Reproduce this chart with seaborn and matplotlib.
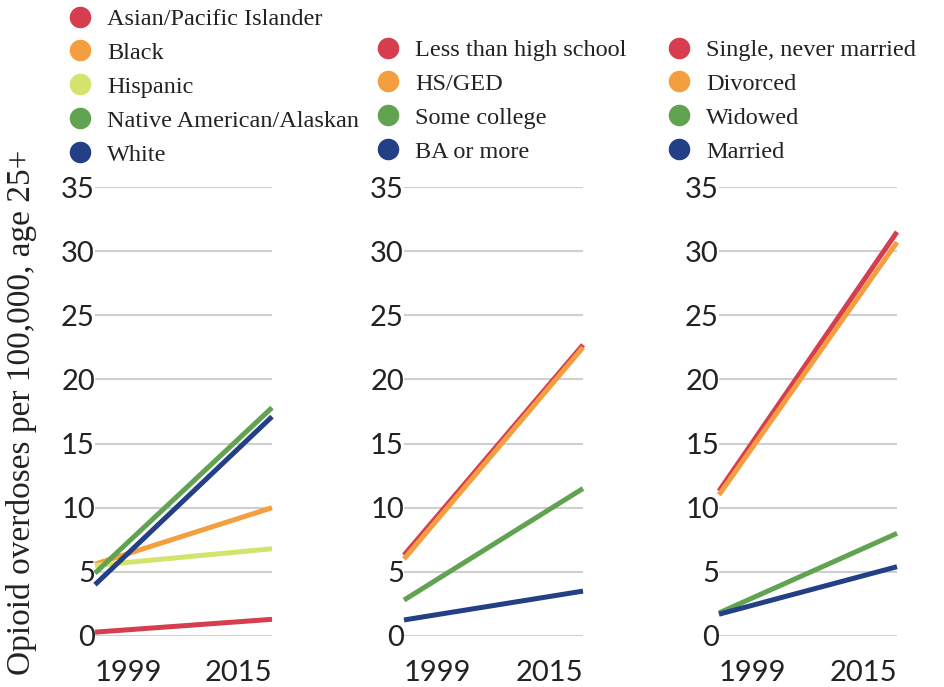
import pandas as pd
import matplotlib.pyplot as plt
import seaborn as sns
from matplotlib.lines import Line2D

sns.set_style("white")
plt.rcParams['figure.facecolor'] = 'white'

# Data (rate per 100,000, age 25+)
years = [1999, 2015]

race_groups = ['Asian/Pacific Islander', 'Black', 'Hispanic', 'Native American/Alaskan', 'White']
race_1999 = [0.3, 5.6, 5.5, 4.9, 4.0]
race_2015 = [1.3, 10.0, 6.8, 17.8, 17.1]

edu_groups = ['Less than high school', 'HS/GED', 'Some college', 'BA or more']
edu_1999 = [6.3, 6.0, 2.8, 1.25]
edu_2015 = [22.7, 22.5, 11.5, 3.5]

marital_groups = ['Single, never married', 'Divorced', 'Widowed', 'Married']
marital_1999 = [11.3, 11.0, 1.8, 1.7]
marital_2015 = [31.5, 30.7, 8.0, 5.4]

red = '#d63d4f'
orange = '#f39e3f'
lime = '#d3e36b'
green = '#62a352'
navy = '#233f86'

race_colors = [red, orange, lime, green, navy]
four_colors = [red, orange, green, navy]

W, H = 945, 687
fig = plt.figure(figsize=(W / 100, H / 100), dpi=100)

serif = 'Liberation Serif'
text_color = '#222222'


def long_df(groups, v1999, v2015):
    rows = []
    for g, a, b in zip(groups, v1999, v2015):
        rows.append({'group': g, 'year': years[0], 'rate': a})
        rows.append({'group': g, 'year': years[1], 'rate': b})
    return pd.DataFrame(rows)


panels = [
    (race_groups, race_1999, race_2015, race_colors, 95, 272),
    (edu_groups, edu_1999, edu_2015, four_colors, 404, 583),
    (marital_groups, marital_1999, marital_2015, four_colors, 719, 897),
]

y_top, y_bot = 187, 636

for groups, a, b, colors, x0, x1 in panels:
    ax = fig.add_axes([x0 / W, 1 - y_bot / H, (x1 - x0) / W, (y_bot - y_top) / H])
    df = long_df(groups, a, b)
    sns.lineplot(data=df, x='year', y='rate', hue='group', hue_order=groups,
                 palette=colors, linewidth=3.6, legend=False, ax=ax,
                 solid_capstyle='butt')
    for ln in ax.get_lines():
        ln.set_clip_on(False)
    ax.set_xlim(years[0], years[1])
    ax.set_ylim(0, 35)
    ax.set_yticks(range(0, 36, 5))
    ax.set_xticks(years)
    ax.set_xticklabels(['1999', '2015'])
    for lbl, ha in zip(ax.get_xticklabels(), ['left', 'right']):
        lbl.set_horizontalalignment(ha)
    ax.yaxis.grid(True, color='#cfcfcf', linewidth=1.5)
    ax.xaxis.grid(False)
    ax.set_axisbelow(True)
    for s in ax.spines.values():
        s.set_visible(False)
    ax.tick_params(axis='both', length=0, labelsize=21, labelcolor=text_color)
    ax.tick_params(axis='y', pad=0)
    ax.tick_params(axis='x', pad=17)
    for lbl in ax.get_xticklabels() + ax.get_yticklabels():
        lbl.set_fontfamily('Lato')
    ax.set_xlabel('')
    ax.set_ylabel('')


def add_legend(groups, colors, x_px, y_px):
    handles = [Line2D([], [], linestyle='none', marker='o', markersize=14.5,
                      markerfacecolor=c, markeredgecolor=c) for c in colors]
    leg = fig.legend(handles, groups, loc='upper left',
                     bbox_to_anchor=(x_px / W, 1 - y_px / H),
                     frameon=False, borderpad=0, borderaxespad=0,
                     handlelength=1.0, handletextpad=0.61, labelspacing=0.49,
                     prop={'family': serif, 'size': 17.5})
    for t in leg.get_texts():
        t.set_color(text_color)
    return leg


add_legend(race_groups, race_colors, 68, 8)
add_legend(edu_groups, four_colors, 376, 39)
add_legend(marital_groups, four_colors, 667, 39)

fig.text(22 / W, 1 - 412 / H, 'Opioid overdoses per 100,000, age 25+',
         rotation=90, ha='center', va='center', fontsize=24,
         family=serif, color=text_color)

fig.savefig('out.png', dpi=100)
